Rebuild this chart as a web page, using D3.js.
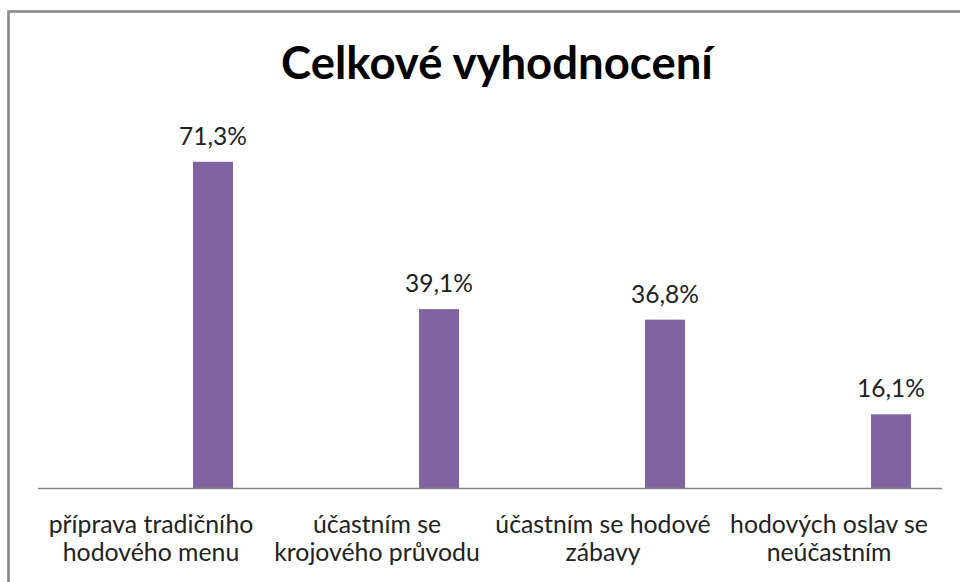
<!DOCTYPE html>
<html>
  <head>
    <meta charset="utf-8">
    <title>Celkové vyhodnocení</title>
    <script src="https://d3js.org/d3.v7.min.js"></script>
    <style>
      body { margin: 0; background: #fff; }
      text { font-family: Lato, "Noto Sans", sans-serif; }
    </style>
  </head>
  <body>
    <div id="chart"></div>
    <script>
      // Data
      var categories = ["příprava tradičního hodového menu", "účastním se krojového průvodu",
                        "účastním se hodové zábavy", "hodových oslav se neúčastním"];
      var labelLines = [["příprava tradičního", "hodového menu"],
                        ["účastním se", "krojového průvodu"],
                        ["účastním se hodové", "zábavy"],
                        ["hodových oslav se", "neúčastním"]];
      var values = [0.713, 0.391, 0.368, 0.161];
      var yDomain = [0, 0.8];

      var W = 960, H = 582;
      var plot = {left: 38, right: 942, top: 122, bottom: 488};

      var svg = d3.select("#chart")
        .append("svg")
          .attr("width", W)
          .attr("height", H);

      // Chart area border (runs off the right and bottom edges)
      svg.append("rect")
        .attr("x", 8.5)
        .attr("y", 11.5)
        .attr("width", W + 20)
        .attr("height", H + 20)
        .attr("fill", "none")
        .attr("stroke", "#898989")
        .attr("stroke-width", 2.6);

      // Title
      svg.append("text")
        .attr("x", 497)
        .attr("y", 79)
        .attr("text-anchor", "middle")
        .style("font-size", "45.5px")
        .style("font-weight", "bold")
        .style("fill", "#000")
        .text("Celkové vyhodnocení");

      var x = d3.scaleBand()
        .domain(categories)
        .range([plot.left, plot.right])
        .padding(0);

      var y = d3.scaleLinear()
        .domain(yDomain)
        .range([plot.bottom, plot.top]);

      var fmt = function(v) { return (v * 100).toFixed(1).replace(".", ",") + "%"; };

      var barW = x.bandwidth() * 0.177;
      var barOff = x.bandwidth() * 0.686;

      // Bars
      svg.selectAll("rect.bar")
        .data(values)
        .enter()
        .append("rect")
          .attr("class", "bar")
          .attr("x", function(d, i) { return x(categories[i]) + barOff; })
          .attr("y", function(d) { return y(d); })
          .attr("width", barW)
          .attr("height", function(d) { return y(0) - y(d); })
          .style("fill", "#8064a2");

      // Value labels
      svg.selectAll("text.val")
        .data(values)
        .enter()
        .append("text")
          .attr("class", "val")
          .attr("x", function(d, i) { return x(categories[i]) + barOff + barW / 2; })
          .attr("y", function(d) { return y(d) - 17; })
          .attr("text-anchor", "middle")
          .style("font-size", "24.5px")
          .style("fill", "#222")
          .text(fmt);

      // X axis line
      svg.append("line")
        .attr("x1", plot.left)
        .attr("x2", plot.right)
        .attr("y1", plot.bottom + 0.5)
        .attr("y2", plot.bottom + 0.5)
        .attr("stroke", "#878787")
        .attr("stroke-width", 1.3);

      // Category labels (two lines each)
      var cat = svg.selectAll("text.cat")
        .data(categories)
        .enter()
        .append("text")
          .attr("class", "cat")
          .attr("text-anchor", "middle")
          .style("font-size", "24.8px")
          .style("fill", "#222");

      cat.selectAll("tspan")
        .data(function(d, i) { return labelLines[i].map(function(t) { return {t: t, c: d}; }); })
        .enter()
        .append("tspan")
          .attr("x", function(d) { return x(d.c) + x.bandwidth() / 2; })
          .attr("y", function(d, j) { return 533 + j * 28; })
          .text(function(d) { return d.t; });
    </script>
  </body>
</html>
